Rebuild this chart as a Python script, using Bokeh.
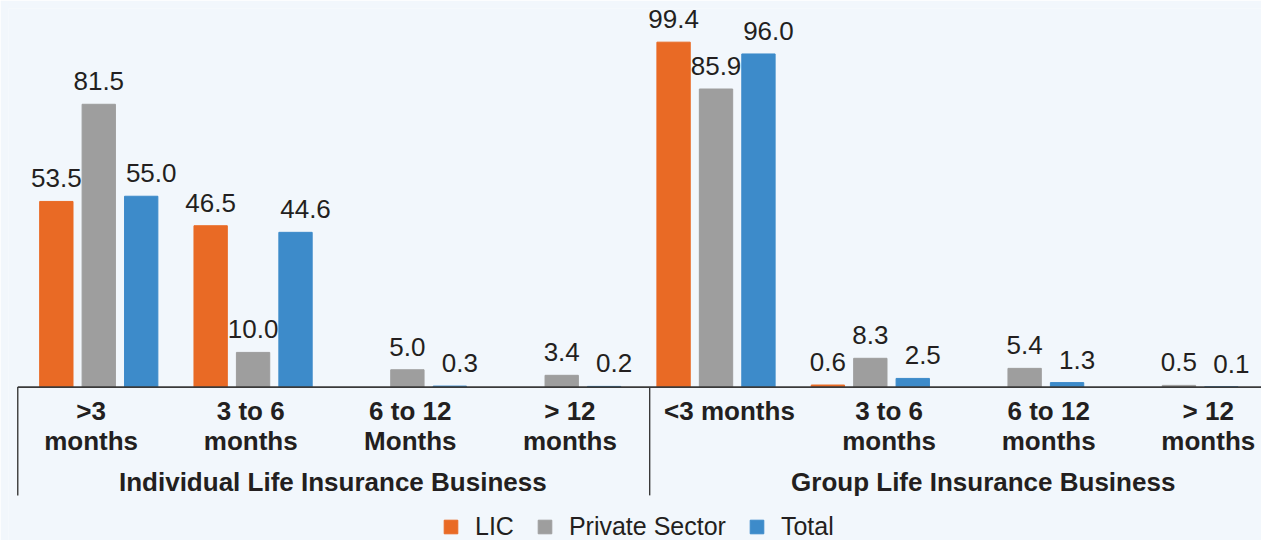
from bokeh.plotting import figure
from bokeh.models import FactorRange, Range1d, ColumnDataSource
from bokeh.transform import dodge
from bokeh.core.properties import value
from bokeh.embed import file_html
from bokeh.resources import INLINE

# ---------------- data ----------------
groups = ["Individual Life Insurance Business", "Group Life Insurance Business"]
periods_individual = [">3\nmonths", "3 to 6\nmonths", "6 to 12\nMonths", "> 12\nmonths"]
periods_group = ["<3 months", "3 to 6\nmonths", "6 to 12\nmonths", "> 12\nmonths"]
series_names = ["LIC", "Private Sector", "Total"]
lic = [53.5, 46.5, None, None, 99.4, 0.6, None, None]
private_sector = [81.5, 10.0, 5.0, 3.4, 85.9, 8.3, 5.4, 0.5]
total = [55.0, 44.6, 0.3, 0.2, 96.0, 2.5, 1.3, 0.1]

# ---------------- style ----------------
BG = "#F2F7FC"
COLORS = ["#E96A25", "#9E9E9E", "#3D8BCA"]
TXT = "#231F20"
AX = "#3A3A3A"
FONT = "Liberation Sans"
CAPTION_SHIFT_PX = 14.7      # captions sit slightly right of the bar slots
CAPTION_SHIFT_SLOT = 0.092   # the same shift in caption-slot units

factors = [(groups[0], c) for c in periods_individual] + [(groups[1], c) for c in periods_group]
n = len(factors)

p = figure(width=1261, height=540,
           x_range=FactorRange(factors=factors, factor_padding=0, group_padding=0,
                               range_padding=0.06, range_padding_units="absolute"),
           y_range=Range1d(-44.2, 109.1),
           output_backend="svg", toolbar_location=None,
           x_axis_location=None, y_axis_location=None,
           min_border_left=8, min_border_top=8, min_border_right=0, min_border_bottom=0,
           outline_line_color=None, background_fill_color=BG, border_fill_color=BG)
p.xgrid.grid_line_color = None
p.ygrid.grid_line_color = None
# the category captions sit on a slightly wider slot grid than the bars
p.extra_x_ranges = {"cats": FactorRange(factors=factors, factor_padding=0, group_padding=0,
                                        range_padding=-0.0745, range_padding_units="absolute")}

nan = float("nan")
series = [lic, private_sector, total]
offsets = [-0.25, 0.025, 0.30]
label_dx = [0, 0, 10]

src = ColumnDataSource(dict(x=factors,
                            s0=[nan if v is None else v for v in lic],
                            s1=[nan if v is None else v for v in private_sector],
                            s2=[nan if v is None else v for v in total]))

for i, (name, vals, col, off, dx) in enumerate(zip(series_names, series, COLORS, offsets, label_dx)):
    p.vbar(x=dodge("x", off, range=p.x_range), top=f"s{i}", width=0.216, source=src,
           fill_color=col, line_color=col, legend_label=name)
    xs = [f for f, v in zip(factors, vals) if v is not None]
    vs = [v for v in vals if v is not None]
    lab = ColumnDataSource(dict(x=xs, v=vs, t=[f"{v:.1f}" for v in vs]))
    p.text(x=dodge("x", off, range=p.x_range), y="v", text="t", source=lab,
           text_align="center", text_baseline="alphabetic", y_offset=-23, x_offset=dx,
           text_font=value(FONT), text_font_size="26px", text_color=TXT)

# axis line and brackets
p.segment(x0=0, y0=0, x1=n + 1, y1=0, line_color=AX, line_width=1.6)
p.segment(x0=0, y0=0, x1=0, y1=-31.2, line_color=AX, line_width=1.4)
k = len(periods_individual)
p.segment(x0=k + CAPTION_SHIFT_SLOT, y0=0, x1=k + CAPTION_SHIFT_SLOT, y1=-31.2,
          line_color=AX, line_width=1.4, x_range_name="cats")

# category labels
cat_labels = periods_individual + periods_group
p.text(x=factors, y=-2.7, text=cat_labels, x_range_name="cats", x_offset=CAPTION_SHIFT_PX,
       text_align="center", text_baseline="top", text_line_height=1.0,
       text_font=value(FONT), text_font_size="26px", text_font_style="bold", text_color=TXT)

# group labels
p.text(x=groups, y=-27.2, text=groups, x_range_name="cats", x_offset=[17, 29],
       text_align="center", text_baseline="alphabetic",
       text_font=value(FONT), text_font_size="26px", text_font_style="bold", text_color=TXT)

leg = p.legend[0]
leg.location = (434, -1)
leg.orientation = "horizontal"
leg.glyph_width = 17
leg.glyph_height = 17
leg.label_standoff = 16
leg.spacing = 22
leg.padding = 0
leg.margin = 0
leg.border_line_alpha = 0
leg.background_fill_alpha = 0
leg.label_text_font = FONT
leg.label_text_font_size = "25px"
leg.label_text_color = TXT

open("out.html", "w").write(file_html(p, INLINE))
